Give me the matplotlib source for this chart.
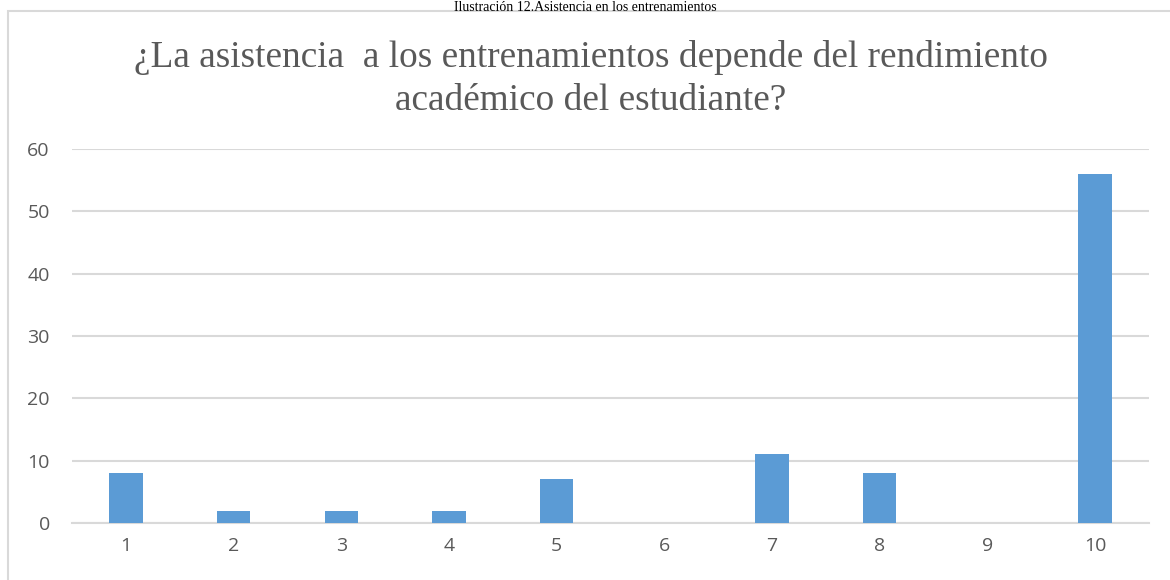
"""Gráfico de barras: asistencia a entrenamientos según rendimiento académico."""

import matplotlib

matplotlib.use("Agg")
import matplotlib.pyplot as plt
from matplotlib.patches import Rectangle


CATEGORIAS = [1, 2, 3, 4, 5, 6, 7, 8, 9, 10]
RESPUESTAS = [8, 2, 2, 2, 7, 0, 11, 8, 0, 56]
MARCAS_Y = [0, 10, 20, 30, 40, 50, 60]

TITULO = "¿La asistencia  a los entrenamientos depende del rendimiento\nacadémico del estudiante?"
LEYENDA_FIGURA = "Ilustración 12.Asistencia en los entrenamientos"

AZUL = "#5b9bd5"
GRIS_TEXTO = "#595959"
GRIS_LINEA = "#d9d9d9"

ANCHO, ALTO = 1170, 580


def main():
    fig = plt.figure(figsize=(ANCHO / 100, ALTO / 100), dpi=100)

    # marco del gráfico (cortado a la derecha y abajo)
    marco = Rectangle((8 / ANCHO, -0.05), 1.2, (ALTO - 11) / ALTO + 0.05,
                      transform=fig.transFigure, fill=False,
                      edgecolor=GRIS_LINEA, linewidth=1.5)
    fig.patches.append(marco)

    fig.text(585 / ANCHO, 1 - 1 / ALTO, LEYENDA_FIGURA, ha="center", va="top",
             family="Liberation Serif", fontsize=10, color="black")
    fig.text(591 / ANCHO, 1 - 79 / ALTO, TITULO, ha="center", va="center",
             family="Liberation Serif", fontsize=26.8, color=GRIS_TEXTO,
             linespacing=1.3)

    izq, der = 72 / ANCHO, 1149 / ANCHO
    abajo, arriba = 1 - 523 / ALTO, 1 - 149 / ALTO
    ax = fig.add_axes([izq, abajo, der - izq, arriba - abajo])

    ax.bar(CATEGORIAS, RESPUESTAS, width=0.31, color=AZUL, zorder=3)

    ax.set_xlim(0.5, 10.5)
    ax.set_ylim(0, 60)
    ax.set_yticks(MARCAS_Y)
    ax.set_xticks(CATEGORIAS)
    ax.yaxis.grid(True, color=GRIS_LINEA, linewidth=1.5, zorder=0)
    ax.set_axisbelow(True)
    for lado in ["left", "right", "top"]:
        ax.spines[lado].set_visible(False)
    ax.spines["bottom"].set_color(GRIS_LINEA)
    ax.spines["bottom"].set_linewidth(1.5)
    ax.tick_params(length=0, labelsize=14, labelcolor=GRIS_TEXTO)
    ax.tick_params(axis="y", pad=16)
    ax.tick_params(axis="x", pad=10)
    for etiqueta in ax.get_xticklabels() + ax.get_yticklabels():
        etiqueta.set_family("Open Sans")

    fig.savefig("out.png", dpi=100)
    plt.close(fig)


if __name__ == "__main__":
    main()
